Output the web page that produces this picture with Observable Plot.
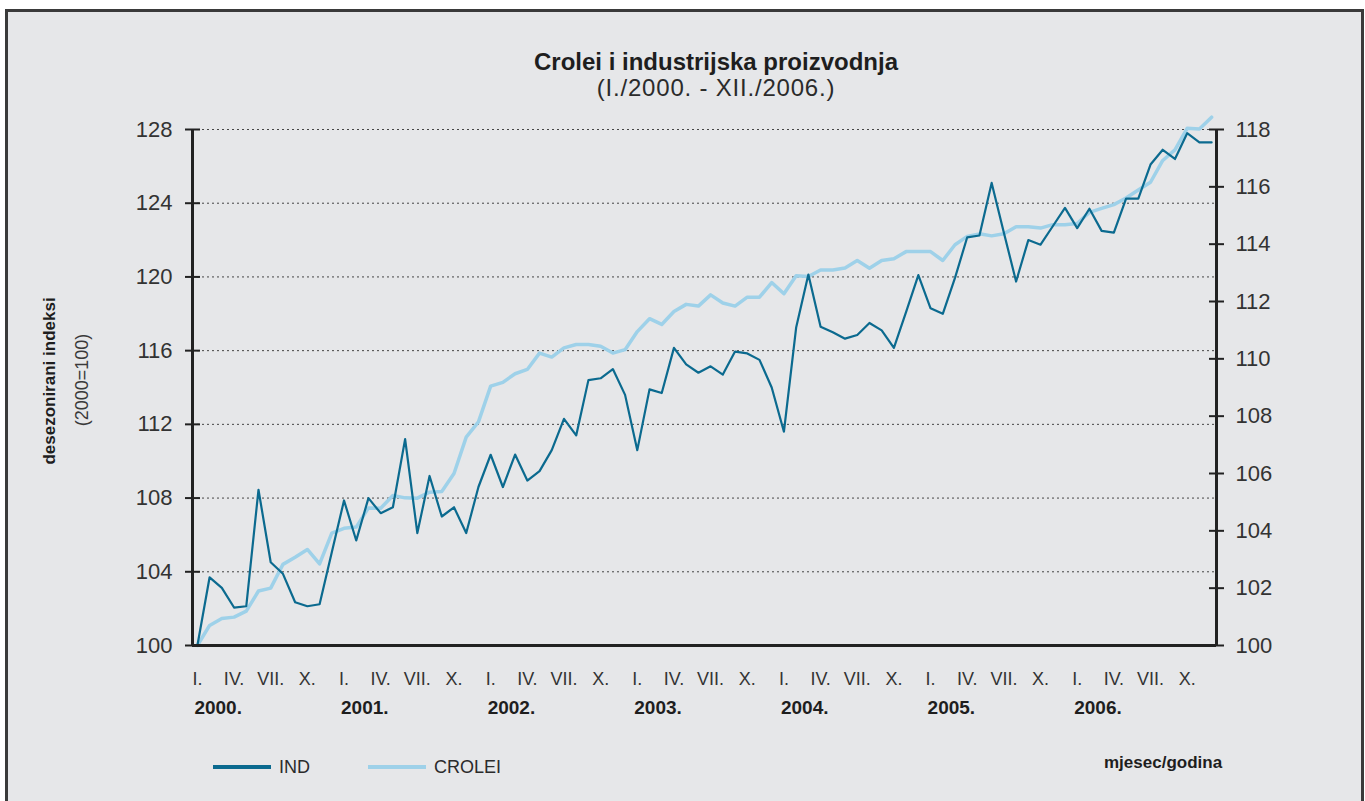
<!DOCTYPE html>
<html>
<head>
<meta charset="utf-8">
<script src="https://cdn.jsdelivr.net/npm/d3@7"></script>
<script src="https://cdn.jsdelivr.net/npm/@observablehq/plot@0.6"></script>
<style>
  html, body { margin: 0; padding: 0; background: #ffffff; width: 1365px; height: 801px; overflow: hidden; }
  body { position: relative; font-family: 'Liberation Sans', Arial, sans-serif; color: #2b2b2b; }
  #frame { position: absolute; left: 5px; top: 9px; width: 1353px; height: 800px; background: #e6e7e9;
           border-top: 3px solid #3a3a3a; border-left: 3px solid #3a3a3a; border-right: 3px solid #3a3a3a; }
  .abs { position: absolute; white-space: nowrap; }
  #title { left: 716px; top: 49px; transform: translateX(-50%); font-weight: bold; font-size: 24px; line-height: 26px; color: #1e1e1e; }
  #subtitle { left: 716px; top: 75px; transform: translateX(-50%); font-size: 24px; line-height: 26px; letter-spacing: 0.8px; color: #2b2b2b; }
  #ytitle { left: 50px; top: 381px; transform: translate(-50%, -50%) rotate(-90deg); font-weight: bold; font-size: 17px; color: #1e1e1e; }
  #ysub { left: 82px; top: 380px; transform: translate(-50%, -50%) rotate(-90deg); font-size: 18px; color: #3a3a3a; }
  #chart { left: 0px; top: 100px; }
  .leg-line { position: absolute; height: 4px; width: 58px; }
  .leg-text { position: absolute; font-size: 18px; line-height: 20px; color: #2b2b2b; }
  #xtitle { left: 1104px; top: 753px; font-weight: bold; font-size: 17px; color: #1e1e1e; }
</style>
</head>
<body>
<div id="frame"></div>
<div id="title" class="abs">Crolei i industrijska proizvodnja</div>
<div id="subtitle" class="abs">(I./2000. - XII./2006.)</div>
<div id="ytitle" class="abs">desezonirani indeksi</div>
<div id="ysub" class="abs">(2000=100)</div>
<div id="chart" class="abs"></div>
<div class="leg-line" style="left:213px; top:765px; background:#0b6a8f;"></div>
<div class="leg-text" style="left:279px; top:757px;">IND</div>
<div class="leg-line" style="left:368px; top:765px; background:#9ed1e9;"></div>
<div class="leg-text" style="left:434px; top:757px;">CROLEI</div>
<div id="xtitle" class="abs">mjesec/godina</div>
<script>
// ---- data (monthly, I./2000 – XII./2006) ----
const ind = [
  100.0, 103.7, 103.13, 102.06, 102.13, 108.45, 104.52, 103.89, 102.35, 102.13, 102.24, 105.06,
  107.87, 105.7, 108.0, 107.18, 107.5, 111.2, 106.1, 109.2, 107.0, 107.5, 106.1, 108.6,
  110.35, 108.6, 110.36, 108.95, 109.46, 110.6, 112.3, 111.4, 114.4, 114.5, 115.0, 113.6,
  110.6, 113.9, 113.7, 116.15, 115.25, 114.8, 115.15, 114.7, 115.95, 115.85, 115.5, 114.0,
  111.6, 117.25, 120.13, 117.3, 117.0, 116.65, 116.85, 117.5, 117.1, 116.15, 118.1, 120.1,
  118.3, 118.0, 119.95, 122.15, 122.25, 125.1, 122.4, 119.75, 122.0, 121.75, 122.75, 123.75,
  122.65, 123.7, 122.5, 122.4, 124.25, 124.25, 126.1, 126.9, 126.4, 127.8, 127.3, 127.3
];
const crolei = [
  100.0, 100.7, 100.94, 100.99, 101.2, 101.9, 102.0, 102.83, 103.08, 103.35, 102.85, 103.92,
  104.09, 104.13, 104.8, 104.79, 105.23, 105.15, 105.14, 105.35, 105.37, 106.0, 107.27, 107.8,
  109.05, 109.18, 109.48, 109.63, 110.2, 110.06, 110.38, 110.5, 110.5, 110.44, 110.2, 110.32,
  110.95, 111.4, 111.2, 111.65, 111.9, 111.84, 112.23, 111.95, 111.84, 112.15, 112.15, 112.66,
  112.27, 112.9, 112.87, 113.1, 113.1, 113.17, 113.43, 113.16, 113.43, 113.49, 113.74, 113.74,
  113.74, 113.43, 113.98, 114.27, 114.36, 114.29, 114.36, 114.61, 114.61, 114.56, 114.68, 114.68,
  114.72, 115.11, 115.25, 115.38, 115.61, 115.89, 116.16, 116.92, 117.29, 118.04, 118.02, 118.43
];
const leftTicks = [100, 104, 108, 112, 116, 120, 124, 128];
const rightTicks = [100, 102, 104, 106, 108, 110, 112, 114, 116, 118];
const monthLabels = ["I.", "IV.", "VII.", "X."];
const years = ["2000.", "2001.", "2002.", "2003.", "2004.", "2005.", "2006."];

// right axis (CROLEI, 100–118) mapped onto the left scale (100–128)
const leftDomain = [100, 128];
const rightDomain = [100, 118];
const k = (leftDomain[1] - leftDomain[0]) / (rightDomain[1] - rightDomain[0]);
const toLeft = v => leftDomain[0] + (v - rightDomain[0]) * k;
const fromLeft = v => rightDomain[0] + (v - leftDomain[0]) / k;

const months = d3.range(ind.length);
const indData = months.map(i => ({i, v: ind[i]}));
const crData = months.map(i => ({i, v: toLeft(crolei[i])}));
const monthData = d3.range(0, 84, 3).map(i => ({i, label: monthLabels[(i % 12) / 3]}));
const yearData = years.map((label, j) => ({i: j * 12, label}));
const xDomain = [-0.4, 83.4];
const blank = () => "";

const chart = Plot.plot({
  width: 1365,
  height: 640,
  marginLeft: 192,
  marginRight: 149,
  marginTop: 29,
  marginBottom: 95,
  style: {background: "transparent", fontFamily: "'Liberation Sans', Arial, sans-serif", fontSize: "22px", color: "#333", overflow: "visible"},
  x: {domain: xDomain, axis: null},
  y: {domain: leftDomain, axis: null},
  marks: [
    Plot.gridY(leftTicks.filter(d => d > leftDomain[0]), {stroke: "#333", strokeOpacity: 0.9, strokeWidth: 1, strokeDasharray: "2,3"}),
    Plot.line(crData, {x: "i", y: "v", stroke: "#9ed1e9", strokeWidth: 3.5}),
    Plot.line(indData, {x: "i", y: "v", stroke: "#0b6a8f", strokeWidth: 2.2}),
    Plot.ruleX(xDomain, {stroke: "#222", strokeWidth: 3}),
    Plot.ruleY([leftDomain[0]], {x1: xDomain[0], x2: xDomain[1], stroke: "#222", strokeWidth: 3}),
    Plot.axisY(leftTicks, {anchor: "left", tickSize: 15, dx: 8, tickFormat: blank, stroke: "#222", strokeWidth: 2, label: null}),
    Plot.axisY(leftTicks, {anchor: "left", tickSize: 0, tickPadding: 20, fontSize: 22, label: null}),
    Plot.axisY(rightTicks.map(toLeft), {anchor: "right", tickSize: 15, dx: -8, tickFormat: blank, stroke: "#222", strokeWidth: 2, label: null}),
    Plot.axisY(rightTicks.map(toLeft), {anchor: "right", tickSize: 0, tickPadding: 19, fontSize: 22, label: null, tickFormat: d => String(Math.round(fromLeft(d)))}),
    Plot.text(monthData, {x: "i", text: "label", frameAnchor: "bottom", dy: 39.5, fontSize: 18, fill: "#333"}),
    Plot.text(yearData, {x: "i", text: "label", frameAnchor: "bottom", dy: 68, dx: -3, textAnchor: "start", fontSize: 19, fontWeight: "bold", fill: "#1e1e1e"})
  ]
});
document.getElementById("chart").appendChild(chart);
</script>
</body>
</html>
